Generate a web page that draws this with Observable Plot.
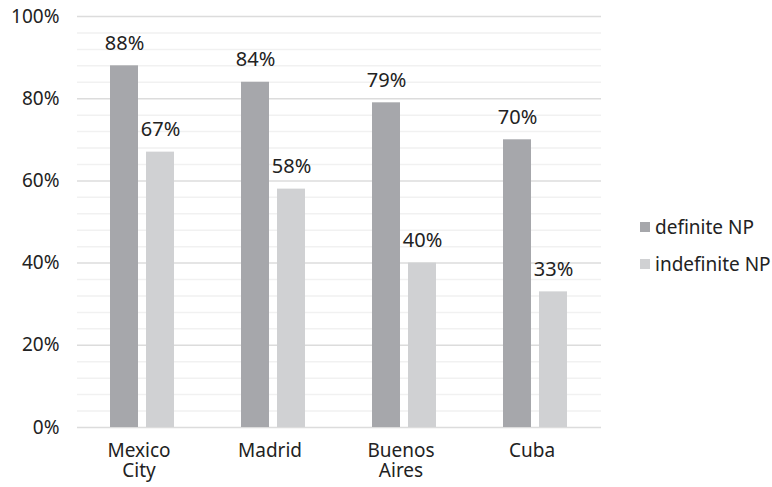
<!DOCTYPE html>
<html>
<head>
<meta charset="utf-8">
<script src="https://cdn.jsdelivr.net/npm/d3@7"></script>
<script src="https://cdn.jsdelivr.net/npm/@observablehq/plot@0.6"></script>
<style>
  body { margin: 0; background: #fff; font-family: "Noto Sans", sans-serif; }
  #wrap { position: relative; width: 772px; height: 487px; }
  #legend { position: absolute; left: 640px; top: 208px; font-size: 19px; color: #222; }
  .item { display: flex; align-items: center; height: 37px; }
  .sw { width: 10px; height: 10px; margin-right: 5px; }
</style>
</head>
<body>
<div id="wrap"></div>
<script>
const cities = ["Mexico City", "Madrid", "Buenos Aires", "Cuba"];
const cityLine1 = ["Mexico", "Madrid", "Buenos", "Cuba"];
const cityLine2 = ["City", "", "Aires", ""];
const seriesNames = ["definite NP", "indefinite NP"];
const definite = [88, 84, 79, 70];
const indefinite = [67, 58, 40, 33];
const yTicks = [0, 20, 40, 60, 80, 100];
const colors = ["#a6a7ab", "#d0d1d3"];

const data = [];
cities.forEach((c, i) => {
  data.push({city: c, series: seriesNames[0], value: definite[i]});
  data.push({city: c, series: seriesNames[1], value: indefinite[i]});
});
const minor = d3.range(0, 101, 4).filter(d => d % 20 !== 0);

const chart = Plot.plot({
  width: 772,
  height: 487,
  marginLeft: 76,
  marginRight: 170,
  marginTop: 16,
  marginBottom: 60,
  style: {fontFamily: "Noto Sans, sans-serif", fontSize: "19px", color: "#222", background: "#fff"},
  fx: {domain: cities, padding: 0, axis: null},
  x: {domain: seriesNames, paddingInner: 0.216, paddingOuter: 0.885, axis: null},
  y: {domain: [0, 100], axis: null},
  color: {domain: seriesNames, range: colors},
  marks: [
    Plot.ruleY(minor, {stroke: "#f1f1f1", strokeWidth: 1.5}),
    Plot.ruleY(yTicks, {stroke: "#dcdcdc", strokeWidth: 1.5}),
    Plot.text(yTicks, {fx: () => cities[0], y: d => d, frameAnchor: "left", textAnchor: "end", dx: -18, text: d => d + "%", fontSize: 19, fill: "#222"}),
    Plot.text(cities, {fx: d => d, text: (d, i) => cityLine1[i], frameAnchor: "bottom", lineAnchor: "top", dy: 16, dx: -4, fontSize: 19, fill: "#222"}),
    Plot.text(cities, {fx: d => d, text: (d, i) => cityLine2[i], frameAnchor: "bottom", lineAnchor: "top", dy: 36, dx: -4, fontSize: 19, fill: "#222"}),
    Plot.barY(data, {fx: "city", x: "series", y: "value", fill: "series"}),
    Plot.text(data, {fx: "city", x: "series", y: "value", text: d => d.value + "%", lineAnchor: "bottom", dy: -16, fontSize: 20, fill: "#222"})
  ]
});
const wrap = document.getElementById("wrap");
wrap.appendChild(chart);

const legend = document.createElement("div");
legend.id = "legend";
seriesNames.forEach((s, i) => {
  const it = document.createElement("div");
  it.className = "item";
  const sw = document.createElement("div");
  sw.className = "sw";
  sw.style.background = colors[i];
  it.appendChild(sw);
  const t = document.createElement("span");
  t.textContent = s;
  it.appendChild(t);
  legend.appendChild(it);
});
wrap.appendChild(legend);
</script>
</body>
</html>
